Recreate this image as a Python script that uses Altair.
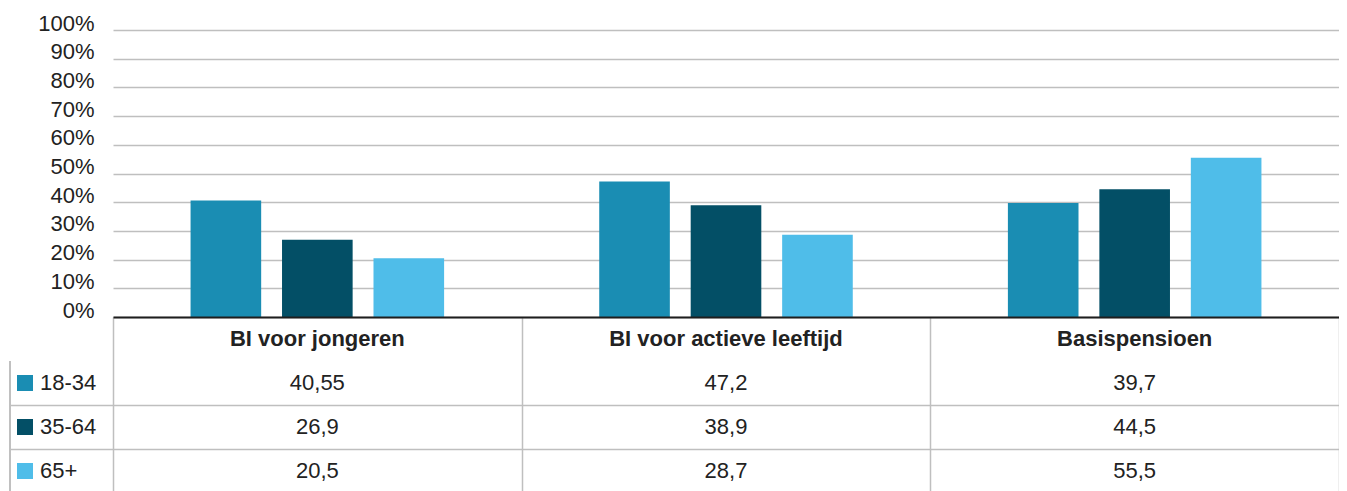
import altair as alt
import pandas as pd

# ---- data ----
categories = ["BI voor jongeren", "BI voor actieve leeftijd", "Basispensioen"]
age_groups = ["18-34", "35-64", "65+"]
values_18_34 = [40.55, 47.2, 39.7]
values_35_64 = [26.9, 38.9, 44.5]
values_65_plus = [20.5, 28.7, 55.5]
y_ticks = [0, 10, 20, 30, 40, 50, 60, 70, 80, 90, 100]
colors = ["#1a8db3", "#034f66", "#4fbde9"]
header_key = "kop"

records = []
for g, vals in zip(age_groups, [values_18_34, values_35_64, values_65_plus]):
    for c, v in zip(categories, vals):
        records.append({"categorie": c, "leeftijd": g, "waarde": v})
df = pd.DataFrame(records)
hdr_df = pd.DataFrame({"categorie": categories, "leeftijd": [header_key] * len(categories)})
grp_df = pd.DataFrame({"leeftijd": age_groups})

FONT = "Liberation Sans"
TXT = "#222222"
GRID = "#bfbfbf"
W = 1226      # plot width
H = 287       # plot height
TH = 176      # table height (4 rows of 44 px; the last row runs off the page bottom)

color_scale = alt.Scale(domain=age_groups, range=colors)
x_scale = alt.Scale(domain=categories, paddingInner=0, paddingOuter=0)

bars = alt.Chart(df).mark_bar().encode(
    x=alt.X("categorie:N", scale=x_scale, axis=None),
    xOffset=alt.XOffset("leeftijd:N",
                        scale=alt.Scale(domain=age_groups, paddingInner=0.228, paddingOuter=0.848)),
    y=alt.Y("waarde:Q", scale=alt.Scale(domain=[0, 100], nice=False),
            axis=alt.Axis(values=y_ticks, labelExpr="datum.value + '%'", title=None,
                          ticks=False, domain=False, gridColor=GRID, gridWidth=1.5,
                          labelPadding=19, labelFontSize=22, labelColor=TXT,
                          labelBaseline="alphabetic", labelFont=FONT)),
    color=alt.Color("leeftijd:N", scale=color_scale, legend=None),
).properties(width=W, height=H)

hide_header = {"condition": {"test": "datum.value === 'kop' || datum.extra", "value": 0}, "value": 1}

row_domain = [header_key] + age_groups
y_row = alt.Y("leeftijd:N",
              scale=alt.Scale(domain=row_domain, paddingInner=0, paddingOuter=0),
              axis=alt.Axis(title=None, labels=False, domain=False, grid=True,
                            tickBand="extent", gridColor=GRID, gridWidth=1.5,
                            ticks=True, tickSize=103, tickColor=GRID, tickWidth=1.5,
                            tickOpacity=hide_header, gridOpacity=hide_header))
x_tab = alt.X("categorie:N", scale=x_scale,
              axis=alt.Axis(title=None, labels=False, ticks=False, orient="top",
                            domain=True, domainColor="#1e1e1e", domainWidth=2, zindex=1,
                            grid=True, tickBand="extent", gridColor=GRID, gridWidth=1.5))

left_border = alt.Chart(grp_df).mark_rule(stroke=GRID, strokeWidth=1.5).encode(
    x=alt.value(-103), y=alt.value(TH / 4), y2=alt.value(TH))

hdr_text = alt.Chart(hdr_df).mark_text(fontSize=22, fontWeight="bold", font=FONT, color=TXT).encode(
    x=x_tab, y=y_row, text="categorie:N")

val_text = alt.Chart(df).transform_calculate(
    label="replace(toString(datum.waarde), '.', ',')"
).mark_text(fontSize=22, font=FONT, color=TXT).encode(
    x=x_tab, y=y_row, text="label:N")

swatches = alt.Chart(grp_df).mark_square(size=256, opacity=1, filled=True).encode(
    x=alt.value(-88), y=y_row,
    color=alt.Color("leeftijd:N", scale=color_scale, legend=None))

row_labels = alt.Chart(grp_df).mark_text(align="left", fontSize=22, font=FONT, color=TXT).encode(
    x=alt.value(-73), y=y_row, text="leeftijd:N")

table = alt.layer(left_border, hdr_text, val_text, swatches, row_labels).properties(width=W, height=TH)

chart = alt.vconcat(bars, table, spacing=0, bounds="flush").properties(
    padding={"left": 1, "top": 4, "right": 0, "bottom": 0},
    background="white",
).configure_view(stroke=None)

chart.save("out.html", embed_options={"renderer": "svg", "actions": False})
